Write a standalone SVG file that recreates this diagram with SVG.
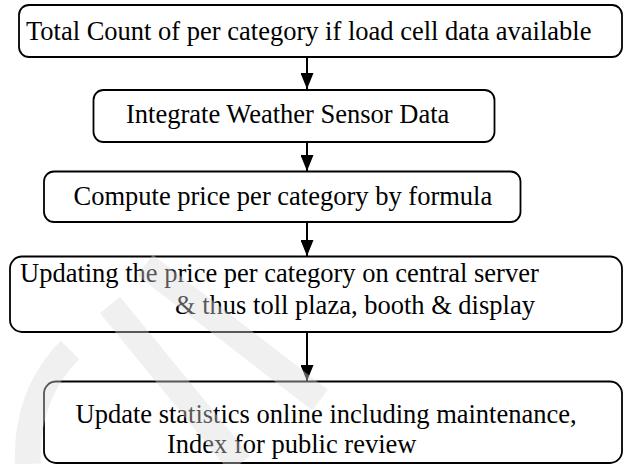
<svg xmlns="http://www.w3.org/2000/svg" width="623" height="464" viewBox="0 0 623 464">
<defs>
<style>
.box{fill:#fff;stroke:#000;stroke-width:1.8}
.t{font-family:'Liberation Serif','Times New Roman',serif;font-size:26.5px;fill:#000}
.edge{stroke:#000;stroke-width:2;fill:none}
.wm{fill:none;stroke:#d9d9d9;stroke-opacity:0.4;stroke-width:26;stroke-linecap:butt}
</style>
<marker id="ah" viewBox="0 0 16 13" refX="16" refY="6.5" markerWidth="16" markerHeight="13" markerUnits="userSpaceOnUse" orient="auto">
<path d="M0,0 L16,6.5 L0,13 Z" fill="#000"/>
</marker>
</defs>
<rect width="623" height="464" fill="#fff"/>
<g id="connectors">
<line class="edge" x1="307" y1="57" x2="307" y2="89" marker-end="url(#ah)"/>
<line class="edge" x1="307" y1="142" x2="307" y2="171" marker-end="url(#ah)"/>
<line class="edge" x1="307" y1="222" x2="307" y2="256" marker-end="url(#ah)"/>
<line class="edge" x1="307" y1="332" x2="307" y2="381" marker-end="url(#ah)"/>
</g>
<g id="n1">
<rect class="box" x="19" y="5" width="603" height="52" rx="10"/>
<text class="t" x="26" y="40">Total Count of per category if load cell data available</text>
</g>
<g id="n2">
<rect class="box" x="93.5" y="90" width="401" height="52" rx="10"/>
<text class="t" x="126" y="123">Integrate Weather Sensor Data</text>
</g>
<g id="n3">
<rect class="box" x="44" y="171.5" width="476.5" height="50.5" rx="10"/>
<text class="t" x="73.5" y="205">Compute price per category by formula</text>
</g>
<g id="n4">
<rect class="box" x="10" y="256.5" width="612" height="75.5" rx="12"/>
<text class="t" x="20" y="282">Updating the price per category on central server</text>
<text class="t" x="175" y="314">&amp; thus toll plaza, booth &amp; display</text>
</g>
<g id="n5">
<rect class="box" x="44" y="381.5" width="578" height="81.5" rx="12"/>
<text class="t" x="75.5" y="423">Update statistics online including maintenance,</text>
<text class="t" x="167" y="453">Index for public review</text>
</g>
<g id="watermark">
<path class="wm" d="M28,464 C26,420 40,380 70,350"/>
<path class="wm" d="M110,305 L240,464"/>
<path class="wm" d="M145,265 L320,400"/>
</g>
</svg>
